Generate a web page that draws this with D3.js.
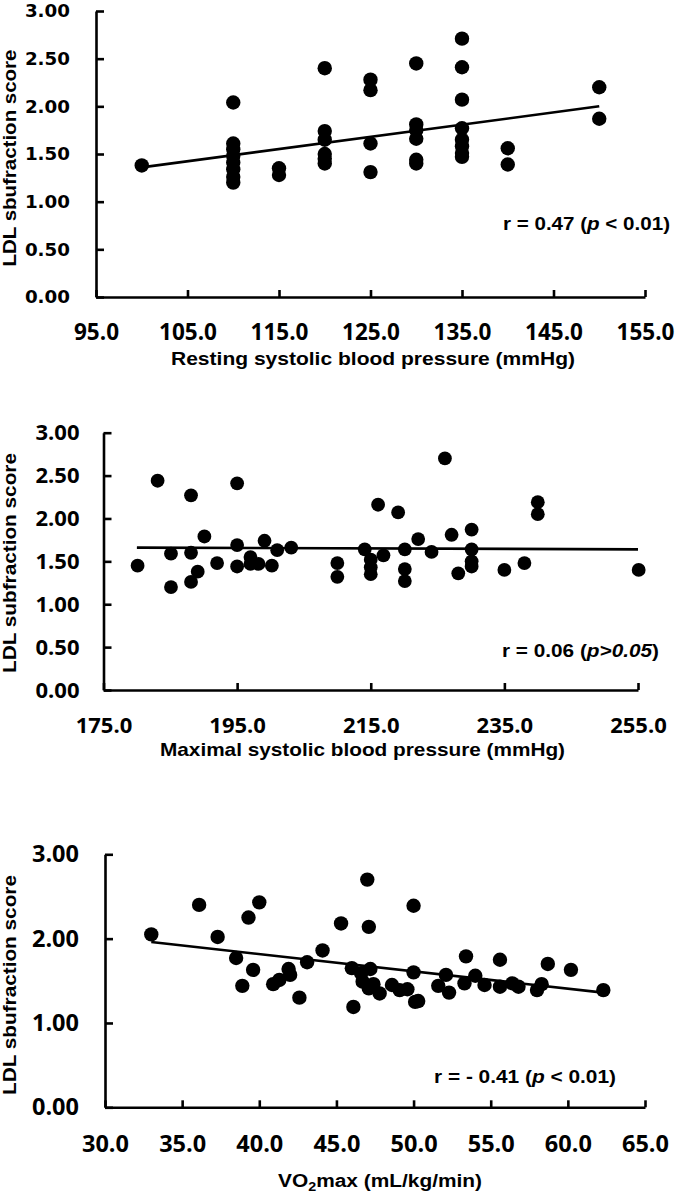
<!DOCTYPE html>
<html>
<head>
<meta charset="utf-8">
<script src="https://cdn.jsdelivr.net/npm/d3@7"></script>
<style>
  html, body { margin: 0; padding: 0; background: #fff; }
  svg { display: block; }
</style>
</head>
<body>
<div id="chart"></div>
<script>
(function () {
    'use strict';

    // panel 1: resting systolic BP vs LDL score
    const restSBP = [100,
        110, 110, 110, 110, 110, 110, 110, 110,
        115, 115,
        120, 120, 120, 120, 120, 120,
        125, 125, 125, 125,
        130, 130, 130, 130, 130, 130,
        135, 135, 135, 135, 135, 135, 135, 135,
        140, 140,
        150, 150];
    const restLDL = [1.38,
        2.04, 1.61, 1.55, 1.48, 1.41, 1.34, 1.26, 1.20,
        1.35, 1.28,
        2.40, 1.74, 1.65, 1.50, 1.45, 1.40,
        2.28, 2.17, 1.61, 1.31,
        2.45, 1.81, 1.75, 1.66, 1.44, 1.40,
        2.71, 2.41, 2.07, 1.77, 1.65, 1.58, 1.51, 1.47,
        1.56, 1.39,
        2.20, 1.87];
    const restFitX = [100, 150];
    const restFitY = [1.36, 2.00];
    const restTicks = [95, 105, 115, 125, 135, 145, 155];

    // panel 2: maximal systolic BP vs LDL score
    const maxSBP = [180.1, 183.1, 185.1, 185.1, 188.1, 188.1, 188.1, 189.1, 190.1, 192.0,
        195.0, 195.0, 195.0, 197.0, 197.0, 198.2, 199.1, 200.2, 201.0, 203.1,
        210.0, 210.0, 214.1, 215.0, 215.0, 215.0, 216.1, 216.9, 219.1, 220.1,
        220.1, 220.1, 222.1, 224.1, 226.1, 227.1, 228.1, 230.1, 230.1, 230.1,
        230.1, 235.0, 238.0, 240.0, 240.0, 255.1];
    const maxLDL = [1.45, 2.44, 1.59, 1.20, 2.27, 1.60, 1.26, 1.38, 1.79, 1.48,
        2.41, 1.69, 1.44, 1.55, 1.47, 1.47, 1.74, 1.45, 1.63, 1.66,
        1.48, 1.32, 1.64, 1.52, 1.43, 1.35, 2.16, 1.57, 2.07, 1.64,
        1.41, 1.27, 1.76, 1.61, 2.70, 1.81, 1.36, 1.87, 1.64, 1.50,
        1.44, 1.40, 1.48, 2.19, 2.05, 1.40];
    const maxFitX = [180, 255];
    const maxFitY = [1.66, 1.64];
    const maxTicks = [175, 195, 215, 235, 255];

    // panel 3: VO2max vs LDL score
    const vo2 = [33.0, 36.1, 37.3, 38.5, 38.9, 39.3, 39.6, 40.0, 40.9, 41.3,
        41.9, 42.0, 42.6, 43.1, 44.1, 45.3, 46.0, 46.1, 47.0, 47.1,
        46.6, 46.7, 47.2, 47.1, 47.4, 47.8, 48.6, 49.1, 49.6, 50.0,
        50.0, 50.1, 50.3, 51.6, 52.1, 52.3, 53.4, 53.3, 54.0, 54.6,
        55.6, 55.6, 56.4, 56.8, 58.0, 58.3, 58.7, 60.2, 62.3];
    const vo2LDL = [2.05, 2.40, 2.02, 1.77, 1.44, 2.25, 1.63, 2.43, 1.46, 1.51,
        1.64, 1.57, 1.30, 1.72, 1.86, 2.18, 1.65, 1.19, 2.70, 2.14,
        1.59, 1.49, 1.64, 1.41, 1.46, 1.35, 1.45, 1.39, 1.40, 2.39,
        1.60, 1.25, 1.26, 1.44, 1.57, 1.36, 1.79, 1.47, 1.56, 1.45,
        1.75, 1.43, 1.47, 1.43, 1.39, 1.46, 1.70, 1.63, 1.39];
    const vo2FitX = [33.0, 62.3];
    const vo2FitY = [1.96, 1.36];
    const vo2Ticks = [30, 35, 40, 45, 50, 55, 60, 65];

    const ldlTicksHalf = [0, 0.5, 1, 1.5, 2, 2.5, 3];
    const ldlTicksWhole = [0, 1, 2, 3];

    const bold = "'Liberation Sans', Arial, sans-serif";
    const tickFont = "'Open Sans', 'Noto Sans', sans-serif";
    const wide = "'DejaVu Sans', Verdana, sans-serif";

    const panels = [
        {
            xs: restSBP, ys: restLDL, fx: restFitX, fy: restFitY,
            xDomain: [95, 155], xRange: [96, 645], yRange: [297, 11],
            xTicks: restTicks, yTicks: ldlTicksHalf,
            yFont: wide, yFontSize: 18.3, yPad: 26,
            xFontSize: 22.5, xBase: 43,
            yTitle: "LDL sbufraction score", yTitleY: 158, yTitleLen: 217, yTitleSize: 17.5,
            xTitle: ["Resting systolic blood pressure (mmHg)"], xTitleX: 171, xTitleY: 365, xTitleLen: 404, xTitleSize: 18.6,
            note: ["r = 0.47 (", "p", " < 0.01)"], noteX: 503, noteY: 230, noteLen: 167,
            r: 7.2
        },
        {
            xs: maxSBP, ys: maxLDL, fx: maxFitX, fy: maxFitY,
            xDomain: [175, 255], xRange: [103.5, 638], yRange: [690, 432.7],
            xTicks: maxTicks, yTicks: ldlTicksHalf,
            yFont: tickFont, yFontSize: 22, yPad: 24,
            xFontSize: 22, xBase: 43,
            yTitle: "LDL subfraction score", yTitleY: 563, yTitleLen: 220, yTitleSize: 17.5,
            xTitle: ["Maximal systolic blood pressure (mmHg)"], xTitleX: 160, xTitleY: 756, xTitleLen: 405, xTitleSize: 18.6,
            note: ["r = 0.06 (", "p>0.05", ")"], noteX: 502, noteY: 657, noteLen: 157,
            r: 6.9
        },
        {
            xs: vo2, ys: vo2LDL, fx: vo2FitX, fy: vo2FitY,
            xDomain: [30, 65], xRange: [105, 645], yRange: [1107.3, 854.3],
            xTicks: vo2Ticks, yTicks: ldlTicksWhole,
            yFont: tickFont, yFontSize: 23.5, yPad: 26,
            xFontSize: 23.5, xBase: 44.5,
            yTitle: "LDL sbufraction score", yTitleY: 985, yTitleLen: 220, yTitleSize: 17.5,
            xTitle: null, xTitleX: 278, xTitleY: 1187, xTitleLen: 204, xTitleSize: 17.5,
            note: ["r = - 0.41 (", "p", " < 0.01)"], noteX: 434, noteY: 1083, noteLen: 182,
            r: 7.2
        }
    ];

    const svg = d3.select("#chart").append("svg")
        .attr("width", 675)
        .attr("height", 1194);

    panels.forEach(p => {
        const x = d3.scaleLinear().domain(p.xDomain).range(p.xRange);
        const y = d3.scaleLinear().domain([0, 3]).range(p.yRange);
        const g = svg.append("g");

        // y axis, ticks pointing inward
        const gy = g.append("g")
            .attr("transform", `translate(${p.xRange[0]},0)`)
            .call(d3.axisLeft(y).tickValues(p.yTicks).tickSize(-8).tickSizeOuter(0)
                .tickPadding(p.yPad).tickFormat(d3.format(".2f")));
        gy.selectAll("text")
            .style("font-family", p.yFont)
            .style("font-weight", "bold")
            .style("font-size", p.yFontSize + "px")
            .attr("fill", "#000");

        // x axis
        const gx = g.append("g")
            .attr("transform", `translate(0,${p.yRange[0]})`)
            .call(d3.axisBottom(x).tickValues(p.xTicks).tickSize(-7).tickSizeOuter(0)
                .tickFormat(d3.format(".1f")));
        gx.selectAll("text")
            .attr("y", p.xBase)
            .attr("dy", null)
            .style("font-family", tickFont)
            .style("font-weight", "bold")
            .style("font-size", p.xFontSize + "px")
            .attr("fill", "#000");

        g.selectAll(".domain, .tick line")
            .attr("stroke", "#000")
            .attr("stroke-width", 2.6);

        // y title
        g.append("text")
            .attr("transform", `translate(16,${p.yTitleY}) rotate(-90)`)
            .attr("text-anchor", "middle")
            .attr("textLength", p.yTitleLen)
            .attr("lengthAdjust", "spacingAndGlyphs")
            .style("font-family", bold)
            .style("font-weight", "bold")
            .style("font-size", p.yTitleSize + "px")
            .text(p.yTitle);

        // x title
        const xt = g.append("text")
            .attr("x", p.xTitleX)
            .attr("y", p.xTitleY)
            .attr("textLength", p.xTitleLen)
            .attr("lengthAdjust", "spacingAndGlyphs")
            .style("font-family", bold)
            .style("font-weight", "bold")
            .style("font-size", p.xTitleSize + "px");
        if (p.xTitle) {
            xt.text(p.xTitle[0]);
        } else {
            xt.append("tspan").text("VO");
            xt.append("tspan").attr("dy", 4).style("font-size", "12px").text("2");
            xt.append("tspan").attr("dy", -4).text("max (mL/kg/min)");
        }

        // regression line
        const fit = p.fx.map((v, i) => [v, p.fy[i]]);
        g.append("path")
            .datum(fit)
            .attr("d", d3.line().x(d => x(d[0])).y(d => y(d[1])))
            .attr("fill", "none")
            .attr("stroke", "#000")
            .attr("stroke-width", 2.6);

        // points
        g.selectAll("circle")
            .data(p.xs.map((v, i) => [v, p.ys[i]]))
            .enter()
            .append("circle")
            .attr("cx", d => x(d[0]))
            .attr("cy", d => y(d[1]))
            .attr("r", p.r)
            .attr("fill", "#000");

        // correlation note
        const nt = g.append("text")
            .attr("x", p.noteX)
            .attr("y", p.noteY)
            .attr("textLength", p.noteLen)
            .attr("lengthAdjust", "spacingAndGlyphs")
            .style("font-family", bold)
            .style("font-weight", "bold")
            .style("font-size", "18.6px");
        nt.append("tspan").text(p.note[0]);
        nt.append("tspan").style("font-style", "italic").text(p.note[1]);
        nt.append("tspan").text(p.note[2]);
    });
})();
</script>
</body>
</html>
